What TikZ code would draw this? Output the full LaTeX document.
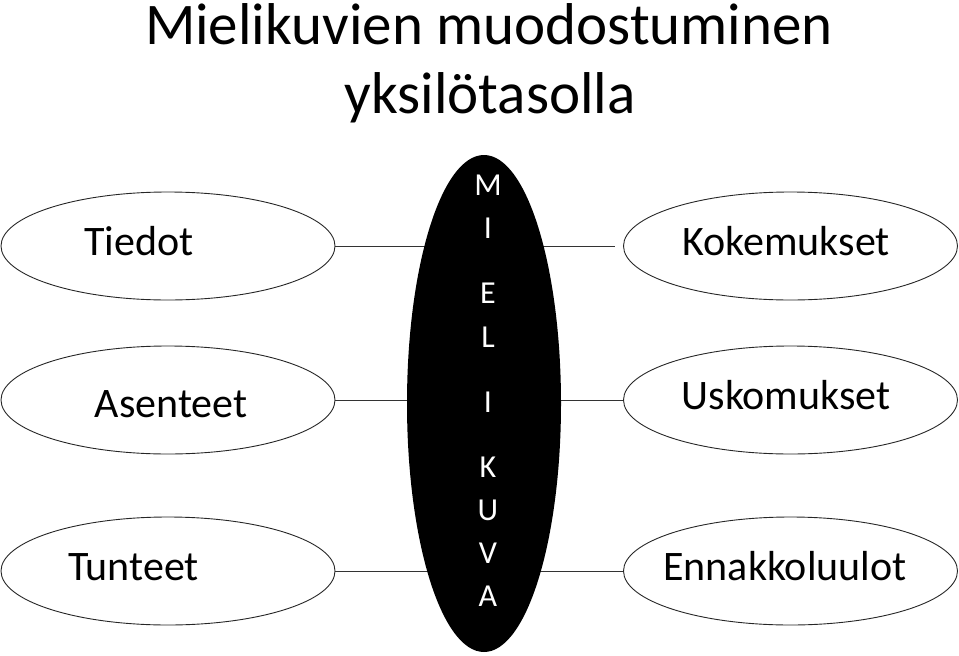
\documentclass[tikz,border=0pt]{standalone}
\usepackage{fontspec}
\setmainfont{Carlito}
\usepackage{tikz}
\usetikzlibrary{shapes.geometric}

\begin{document}
\begin{tikzpicture}[x=1pt, y=-1pt,
        oval/.style={draw=black!85, line width=0.9pt, ellipse, inner sep=0pt,
            minimum width=334pt, minimum height=108pt},
        word/.style={anchor=base, inner sep=0pt, font=\fontsize{42}{50}\selectfont},
        heading/.style={anchor=base, inner sep=0pt, font=\fontsize{59}{70}\selectfont},
        letter/.style={anchor=base, inner sep=0pt, text=white, font=\fontsize{32}{38}\selectfont},
        link/.style={draw=black!80, line width=0.9pt}]
                \useasboundingbox (0, 0) rectangle (959, 656);

                \node [heading] (titleA) at (489, 44) {Mielikuvien muodostuminen};
                \node [heading] (titleB) at (490, 113) {yksilötasolla};

                \node [oval] (tiedot) at (168, 246) {};
                \node [oval] (asenteet) at (168, 400) {};
                \node [oval] (tunteet) at (168, 571) {};

                \node [oval] (kokemukset) at (790.5, 246) {};
                \node [oval] (uskomukset) at (790.5, 400) {};
                \node [oval] (ennakko) at (790.5, 571) {};

                \draw [link, shorten >=8pt] (tiedot) to (kokemukset);
                \draw [link] (asenteet) to (uskomukset);
                \draw [link] (tunteet) to (ennakko);

                \node [ellipse, fill=black, inner sep=0pt, minimum width=154pt, minimum height=497pt] (kuva) at (484, 403.5) {};

                \node [word] (tiedotText) at (139, 255) {Tiedot};
                \node [word] (asenteetText) at (171, 417) {Asenteet};
                \node [word] (tunteetText) at (133.5, 580) {Tunteet};
                \node [word] (kokemuksetText) at (786, 255) {Kokemukset};
                \node [word] (uskomuksetText) at (786, 409) {Uskomukset};
                \node [word] (ennakkoText) at (785, 580) {Ennakkoluulot};

                \foreach \ch/\yy [count=\i] in {M/195, I/238, E/303, L/347, I/412, K/477, U/520, V/563, A/606}
                    \node [letter] (kirjain\i) at (488, \yy) {\ch};
            \end{tikzpicture}
\end{document}
